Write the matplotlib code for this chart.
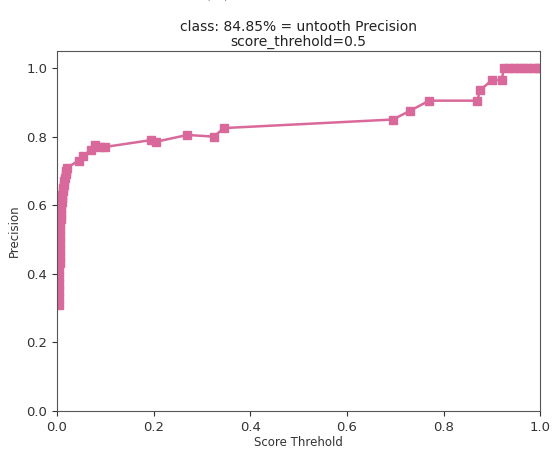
import matplotlib
matplotlib.use("Agg")
import matplotlib.pyplot as plt

# score thresholds and precision
score = [0.004, 0.004, 0.005, 0.005, 0.005, 0.005, 0.006, 0.006, 0.006, 0.006,
         0.007, 0.007, 0.007, 0.008, 0.008, 0.009, 0.009, 0.010, 0.010, 0.011,
         0.012, 0.013, 0.014, 0.015, 0.016, 0.018, 0.020, 0.022,
         0.045, 0.055, 0.070, 0.080, 0.090, 0.100,
         0.195, 0.205, 0.270, 0.325, 0.345,
         0.695, 0.730, 0.770, 0.870, 0.875, 0.900, 0.920,
         0.925, 0.935, 0.945, 0.955, 0.965, 0.975, 0.985, 0.995, 1.000]
precision = [0.31, 0.33, 0.35, 0.37, 0.39, 0.41, 0.43, 0.45, 0.47, 0.49,
             0.51, 0.53, 0.55, 0.56, 0.575, 0.59, 0.60, 0.61, 0.62, 0.63,
             0.64, 0.65, 0.66, 0.67, 0.68, 0.69, 0.70, 0.71,
             0.73, 0.745, 0.76, 0.775, 0.77, 0.77,
             0.79, 0.785, 0.805, 0.80, 0.825,
             0.85, 0.875, 0.905, 0.905, 0.935, 0.965, 0.965,
             1.0, 1.0, 1.0, 1.0, 1.0, 1.0, 1.0, 1.0, 1.0]

title = "class: 84.85% = untooth Precision\nscore_threhold=0.5"

fig = plt.figure(figsize=(5.57, 4.51), dpi=100)
ax = fig.add_axes([0.102, 0.089, 0.868, 0.798])

ax.plot(score, precision, color="#d9699a", lw=1.8, marker="s", ms=5.5)

ax.set_xlim(0, 1)
ax.set_ylim(0, 1.05)
ax.set_xticks([0, 0.2, 0.4, 0.6, 0.8, 1.0])
ax.set_yticks([0, 0.2, 0.4, 0.6, 0.8, 1.0])
ax.tick_params(labelsize=9.5, colors="#333333")
for s in ax.spines.values():
    s.set_color("#555555")

ax.set_title(title, fontsize=10, color="#222222", linespacing=1.0, pad=4)
ax.set_xlabel("Score Threhold", fontsize=8.5, color="#333333", labelpad=2)
ax.set_ylabel("Precision", fontsize=8.5, color="#333333")

# caption of the figure above, cut off at the top edge
fig.text(0.39, 1.02, "(c)", fontsize=17, family="serif", ha="center", va="center", color="#222222")

fig.savefig("out.png", dpi=100)
